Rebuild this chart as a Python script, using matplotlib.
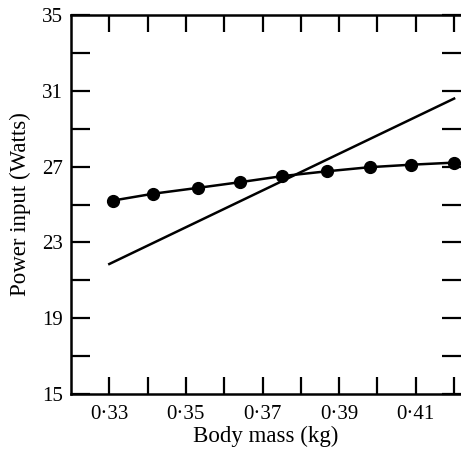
import matplotlib
matplotlib.use("Agg")
import matplotlib.pyplot as plt
from matplotlib.ticker import FixedLocator

plt.rcParams['font.family'] = ['Liberation Serif', 'DejaVu Serif']

mass_dots = [0.331, 0.3415, 0.3532, 0.3642, 0.3752, 0.3867, 0.398, 0.4088, 0.42]
power_dots = [25.21, 25.57, 25.88, 26.18, 26.50, 26.75, 26.97, 27.10, 27.21]
mass_line = [0.33, 0.42]
power_line = [21.86, 30.59]
xtick_labels = ["0·33", "0·35", "0·37", "0·39", "0·41"]
xtick_vals = [0.33, 0.35, 0.37, 0.39, 0.41]
ytick_vals = [15, 19, 23, 27, 31, 35]

fig = plt.figure(figsize=(4.61, 4.53), dpi=100)
ax = fig.add_axes([71/461, 59/453, 1 - 71/461, (394-15)/453])

ax.plot(mass_line, power_line, color='black', lw=1.8)
ax.plot(mass_dots, power_dots, color='black', lw=1.8, marker='o', ms=8.5)

ax.set_xlim(0.32, 0.4218)
ax.set_ylim(15, 35)

ax.xaxis.set_major_locator(FixedLocator(xtick_vals))
ax.xaxis.set_minor_locator(FixedLocator([0.34, 0.36, 0.38, 0.40, 0.42]))
ax.set_xticklabels(xtick_labels)
ax.yaxis.set_major_locator(FixedLocator(ytick_vals))
ax.yaxis.set_minor_locator(FixedLocator([17, 21, 25, 29, 33]))

ax.tick_params(axis='x', which='both', direction='in', length=12, width=1.6,
               top=True, bottom=True, labelsize=15, pad=8)
ax.tick_params(axis='y', which='both', direction='in', length=14, width=1.6,
               left=True, right=True, labelsize=15, pad=6)

for s in ['left', 'bottom', 'top']:
    ax.spines[s].set_linewidth(1.8)
ax.spines['right'].set_visible(False)

ax.set_xlabel("Body mass (kg)", fontsize=16.5, labelpad=1)
ax.set_ylabel("Power input (Watts)", fontsize=16.5, labelpad=8)

fig.savefig("out.png", dpi=100)
